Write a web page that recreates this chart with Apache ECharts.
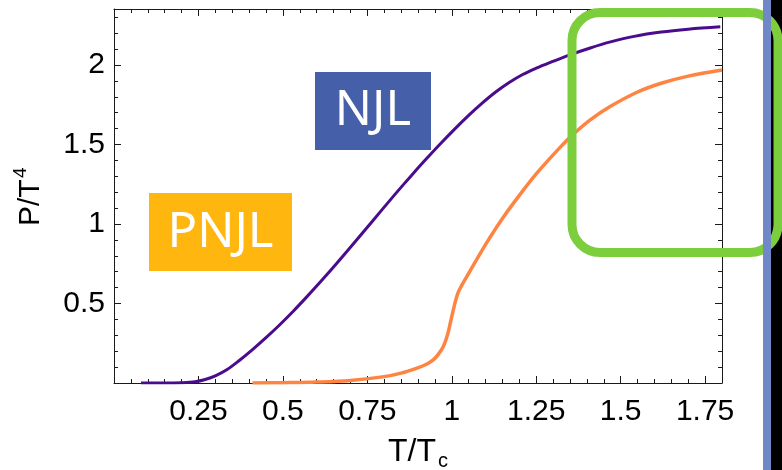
<!DOCTYPE html>
<html>
<head>
<meta charset="utf-8">
<script src="https://cdn.jsdelivr.net/npm/echarts@6/dist/echarts.min.js"></script>
<style>
html,body{margin:0;padding:0;background:#fff;}
#chart{width:782px;height:470px;}
</style>
</head>
<body>
<div id="chart"></div>
<script>
// ---- data ----
const njlT = [0.08, 0.15, 0.2, 0.24, 0.27, 0.3, 0.335, 0.37, 0.41, 0.45, 0.49, 0.53, 0.57, 0.61, 0.65, 0.69, 0.74, 0.79, 0.835, 0.88, 0.92, 0.965, 1.01, 1.05, 1.09, 1.13, 1.17, 1.21, 1.25, 1.29, 1.35, 1.41, 1.47, 1.54, 1.62, 1.70, 1.795];
const njlP = [0, 0, 0.002, 0.008, 0.022, 0.045, 0.085, 0.14, 0.21, 0.285, 0.365, 0.45, 0.54, 0.633, 0.729, 0.828, 0.954, 1.081, 1.194, 1.304, 1.399, 1.502, 1.6, 1.683, 1.76, 1.83, 1.89, 1.94, 1.98, 2.015, 2.064, 2.107, 2.145, 2.18, 2.207, 2.225, 2.24];
const pnjlT = [0.41, 0.5, 0.6, 0.7, 0.8, 0.85, 0.895, 0.925, 0.945, 0.96, 0.975, 0.987, 0.997, 1.008, 1.02, 1.05, 1.08, 1.11, 1.15, 1.2, 1.25, 1.32, 1.36, 1.41, 1.47, 1.55, 1.62, 1.70, 1.80];
const pnjlP = [0, 0.002, 0.006, 0.016, 0.04, 0.062, 0.092, 0.118, 0.145, 0.18, 0.23, 0.3, 0.39, 0.49, 0.575, 0.69, 0.8, 0.905, 1.035, 1.18, 1.315, 1.48, 1.565, 1.655, 1.74, 1.83, 1.885, 1.93, 1.968];
const xTickLabels = ['0.25', '0.5', '0.75', '1', '1.25', '1.5', '1.75'];
const yTickLabels = ['0.5', '1', '1.5', '2'];
const xTitle = 'T/T';
const xTitleSub = 'c';
const yTitle = 'P/T';
const yTitleSup = '4';
const boxLabels = ['NJL', 'PNJL'];

const X_MIN = 0, X_MAX = 1.8, Y_MIN = 0, Y_MAX = 2.352;
const FRAME = '#1a1a1a';
const FONT = 'Liberation Sans';

function fmt(list) {
  return function (v) {
    const s = String(Math.round(v * 1000) / 1000);
    return list.indexOf(s) >= 0 ? s : '';
  };
}

function xAx(pos, major, labels) {
  return {
    type: 'value', position: pos, min: X_MIN, max: X_MAX,
    interval: major ? 0.25 : 0.05,
    axisLine: { show: major, onZero: false, lineStyle: { color: FRAME, width: 1 } },
    axisTick: { show: true, inside: true, length: major ? 7 : 4, lineStyle: { color: FRAME, width: 1 } },
    axisLabel: labels ? { show: true, formatter: fmt(xTickLabels), color: '#000', fontSize: 30, fontFamily: FONT, margin: 14, hideOverlap: false } : { show: false },
    splitLine: { show: false }
  };
}
function yAx(pos, major, labels) {
  return {
    type: 'value', position: pos, min: Y_MIN, max: Y_MAX,
    interval: major ? 0.5 : 0.1,
    axisLine: { show: major, onZero: false, lineStyle: { color: FRAME, width: 1 } },
    axisTick: { show: true, inside: true, length: major ? 7 : 4, lineStyle: { color: FRAME, width: 1 } },
    axisLabel: labels ? { show: true, formatter: fmt(yTickLabels), color: '#000', fontSize: 30, fontFamily: FONT, margin: 9, hideOverlap: false } : { show: false },
    splitLine: { show: false }
  };
}

const chart = echarts.init(document.getElementById('chart'), null, { renderer: 'canvas' });
chart.setOption({
  animation: false,
  backgroundColor: '#fff',
  grid: { left: 114, right: 60, top: 9, bottom: 87, containLabel: false },
  xAxis: [xAx('bottom', true, true), xAx('bottom', false, false), xAx('top', true, false), xAx('top', false, false)],
  yAxis: [yAx('left', true, true), yAx('left', false, false), yAx('right', true, false), yAx('right', false, false)],
  series: [
    {
      type: 'line', name: boxLabels[0], xAxisIndex: 0, yAxisIndex: 0,
      data: njlT.map((t, i) => [t, njlP[i]]),
      showSymbol: false, smooth: 0.35,
      lineStyle: { color: '#4a0c8c', width: 3 }, z: 3
    },
    {
      type: 'line', name: boxLabels[1], xAxisIndex: 0, yAxisIndex: 0,
      data: pnjlT.map((t, i) => [t, pnjlP[i]]),
      showSymbol: false, smooth: 0.35,
      lineStyle: { color: '#ff8442', width: 3.5 }, z: 3
    }
  ],
  graphic: [
    { type: 'text', x: 412, y: 452, z: 50, style: { text: xTitle, font: '32px "Liberation Sans"', fill: '#000', align: 'center', verticalAlign: 'middle' } },
    { type: 'text', x: 443, y: 461, z: 50, style: { text: xTitleSub, font: '20px "Liberation Sans"', fill: '#000', align: 'center', verticalAlign: 'middle' } },
    {
      type: 'group', x: 31, y: 197, rotation: Math.PI / 2, z: 50,
      children: [
        { type: 'text', x: -29, y: 0, style: { text: yTitle, font: '30px "Liberation Sans"', fill: '#000', align: 'left', verticalAlign: 'middle' } },
        { type: 'text', x: 19, y: -10, style: { text: yTitleSup, font: '19px "Liberation Sans"', fill: '#000', align: 'left', verticalAlign: 'middle' } }
      ]
    },
    { type: 'rect', z: 60, shape: { x: 315, y: 72, width: 116, height: 78 }, style: { fill: '#4560a9' } },
    { type: 'text', z: 61, x: 373, y: 111, style: { text: boxLabels[0], font: '49px "Noto Sans"', fill: '#fff', align: 'center', verticalAlign: 'middle' } },
    { type: 'rect', z: 60, shape: { x: 149, y: 193, width: 143, height: 78 }, style: { fill: '#ffb60e' } },
    { type: 'text', z: 61, x: 220.5, y: 233, style: { text: boxLabels[1], font: '49px "Noto Sans"', fill: '#fff', align: 'center', verticalAlign: 'middle' } },
    { type: 'rect', z: 70, shape: { x: 771, y: 0, width: 11, height: 470 }, style: { fill: '#000' } },
    { type: 'rect', z: 80, shape: { x: 572, y: 12.5, width: 206, height: 240, r: 28 }, style: { fill: 'none', stroke: '#7dce3c', lineWidth: 9 } },
    { type: 'rect', z: 90, shape: { x: 763, y: 0, width: 8, height: 470 }, style: { fill: '#7088c8' } }
  ]
});
</script>
</body>
</html>
